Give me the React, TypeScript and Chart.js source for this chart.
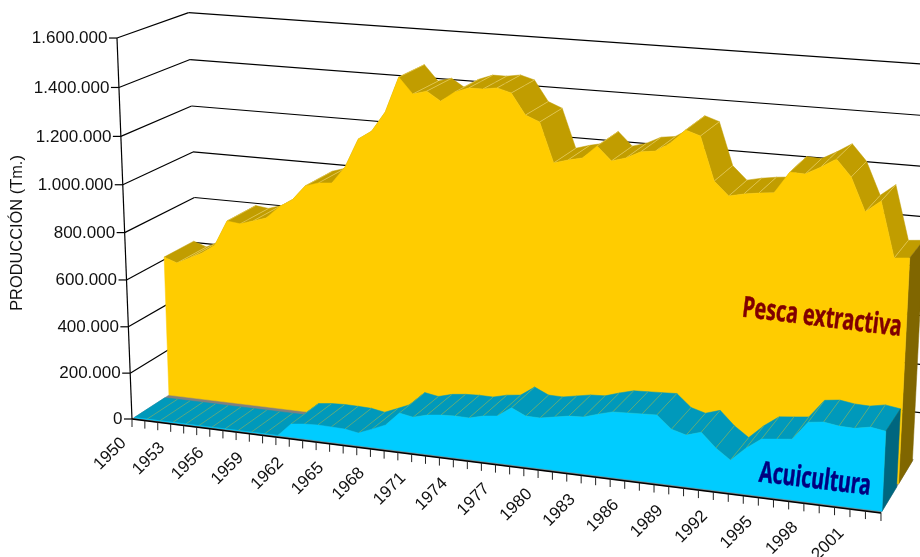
import React, { useEffect, useRef } from "react";
import { Chart, registerables } from "chart.js";

Chart.register(...registerables);

const years = [
  1950, 1951, 1952, 1953, 1954, 1955, 1956, 1957, 1958, 1959, 1960, 1961, 1962, 1963, 1964, 1965, 1966, 1967,
  1968, 1969, 1970, 1971, 1972, 1973, 1974, 1975, 1976, 1977, 1978, 1979, 1980, 1981, 1982, 1983, 1984, 1985,
  1986, 1987, 1988, 1989, 1990, 1991, 1992, 1993, 1994, 1995, 1996, 1997, 1998, 1999, 2000, 2001, 2002, 2003,
];
const pescaExtractiva = [
  611000, 591000, 619000, 646000, 686000, 795000, 788000, 806000, 824000, 876000, 911000, 975000, 993000, 998000,
  1070000, 1190000, 1228000, 1311000, 1457000, 1393000, 1409000, 1373000, 1414000, 1435000, 1435000, 1444000,
  1428000, 1344000, 1321000, 1161000, 1178000, 1191000, 1244000, 1189000, 1206000, 1235000, 1243000, 1280000,
  1336000, 1317000, 1144000, 1090000, 1103000, 1112000, 1118000, 1205000, 1202000, 1234000, 1271000, 1206000,
  1075000, 1123000, 905000, 911000,
];
const acuicultura = [
  200, 200, 200, 300, 300, 300, 400, 400, 500, 500, 600, 600, 57000, 64000, 67000, 66000, 64000, 54000,
  78000, 103000, 160000, 150000, 166000, 173000, 176000, 175000, 190000, 197000, 238000, 211000, 210000, 221000,
  232000, 235000, 254000, 270000, 273000, 276000, 279000, 228000, 211000, 230000, 173000, 131000, 187000, 231000,
  238000, 245000, 320000, 328000, 319000, 317000, 329000, 320000,
];

const Y_TITLE = "PRODUCCIÓN (Tm.)";
const FONT = '"Liberation Sans", Arial, sans-serif';

// Perspective camera of the 3D box: origin, vanishing points and weights.
const O = [132, 419];
const VX = [-7260, -509];
const VY = [474, 9098];
const VZ = [1455, -437];
const A = -0.092;
const B = -0.04205;
const C = 0.0542;
const project = (u: number, v: number, w: number): [number, number] => {
  const d = 1 + A * u + B * v + C * w;
  return [
    (O[0] + A * u * VX[0] + B * v * VY[0] + C * w * VZ[0]) / d,
    (O[1] + A * u * VX[1] + B * v * VY[1] + C * w * VZ[1]) / d,
  ];
};

const poly = (ctx: CanvasRenderingContext2D, pts: [number, number][], fill: string) => {
  ctx.beginPath();
  pts.forEach((p, i) => (i ? ctx.lineTo(p[0], p[1]) : ctx.moveTo(p[0], p[1])));
  ctx.closePath();
  ctx.fillStyle = fill;
  ctx.fill();
  ctx.strokeStyle = fill;
  ctx.lineWidth = 0.5;
  ctx.stroke();
};
const line = (ctx: CanvasRenderingContext2D, a: [number, number], b: [number, number], col: string, lw = 1) => {
  ctx.beginPath();
  ctx.moveTo(a[0], a[1]);
  ctx.lineTo(b[0], b[1]);
  ctx.strokeStyle = col;
  ctx.lineWidth = lw;
  ctx.stroke();
};

const perspectivePlugin = {
  id: "perspective",
  afterDraw(chart: any) {
    const { ctx, chartArea: ca, scales } = chart;
    const toU = (px: number) => (px - ca.left) / (ca.right - ca.left);
    const toV = (py: number) => (ca.bottom - py) / (ca.bottom - ca.top);
    ctx.save();

    // back walls' grid
    for (const t of scales.y.ticks) {
      const v = toV(scales.y.getPixelForValue(t.value));
      if (v > 0) {
        line(ctx, project(0, v, 0), project(0, v, 1), "#000", 1.2);
        line(ctx, project(0, v, 1), project(1.3, v, 1), "#000", 1.2);
      }
    }
    // floor
    poly(ctx, [project(0, 0, 0), project(1, 0, 0), project(1, 0, 1), project(0, 0, 1)], "#808080");

    const drawSeries = (
      idx: number,
      w0: number,
      w1: number,
      front: string,
      top: string,
      side: string,
      seam: string,
    ) => {
      const pts = chart.getDatasetMeta(idx).data as any[];
      const n = pts.length;
      const uv = pts.map((p) => [toU(p.x), toV(p.y)]);
      for (let i = 0; i < n - 1; i++) {
        const [u1, v1] = uv[i];
        const [u2, v2] = uv[i + 1];
        poly(ctx, [project(u1, v1, w0), project(u2, v2, w0), project(u2, v2, w1), project(u1, v1, w1)], top);
        if (i > 0) line(ctx, project(u1, v1, w0), project(u1, v1, w1), seam, 0.8);
      }
      const [ue, ve] = uv[n - 1];
      poly(ctx, [project(ue, 0, w0), project(ue, ve, w0), project(ue, ve, w1), project(ue, 0, w1)], side);
      const face: [number, number][] = [project(uv[0][0], 0, w0)];
      uv.forEach(([u, v]) => face.push(project(u, v, w0)));
      face.push(project(ue, 0, w0));
      poly(ctx, face, front);
    };
    drawSeries(0, 0.53, 0.97, "#FFCC00", "#C19D00", "#806600", "rgba(255,235,150,0.55)");
    drawSeries(1, 0.03, 0.47, "#00CCFF", "#0099BB", "#00667F", "rgba(190,190,60,0.55)");

    // y axis
    ctx.textBaseline = "middle";
    ctx.textAlign = "right";
    ctx.font = `17px ${FONT}`;
    ctx.fillStyle = "#111";
    line(ctx, project(0, 0, 0), project(0, 1, 0), "#000", 1.2);
    for (const t of scales.y.ticks) {
      const v = toV(scales.y.getPixelForValue(t.value));
      const p = project(0, v, 0);
      line(ctx, [p[0] - 8, p[1]], p, "#000", 1.2);
      ctx.fillText(t.label, p[0] - 9.5, p[1] + 0.5);
    }
    // x axis
    line(ctx, project(0, 0, 0), project(1, 0, 0), "#000", 1.6);
    scales.x.ticks.forEach((t: any, i: number) => {
      const u = toU(scales.x.getPixelForTick(i));
      const p = project(u, 0, 0);
      line(ctx, p, [p[0], p[1] + 8], "#222", 1);
      if (t.label) {
        ctx.save();
        ctx.translate(p[0] - 8.5, p[1] + 21.5);
        ctx.rotate(-Math.PI / 4);
        ctx.textAlign = "right";
        ctx.textBaseline = "middle";
        ctx.fillStyle = "#111";
        ctx.fillText(t.label, 0, 0);
        ctx.restore();
      }
    });
    // y title
    ctx.save();
    ctx.translate(17, 233);
    ctx.rotate(-Math.PI / 2);
    ctx.textAlign = "center";
    ctx.font = `16.4px ${FONT}`;
    ctx.fillStyle = "#111";
    ctx.fillText(Y_TITLE, 0, 0);
    ctx.restore();

    // series names
    const label = (text: string, x: number, y: number, col: string, size: number, sx: number) => {
      ctx.save();
      ctx.translate(x, y);
      ctx.rotate(0.122);
      ctx.scale(sx, 1);
      ctx.textAlign = "center";
      ctx.textBaseline = "middle";
      ctx.font = `bold ${size}px "Noto Sans", sans-serif`;
      ctx.fillStyle = col;
      ctx.strokeStyle = col;
      ctx.lineWidth = 0.5;
      ctx.fillText(text, 0, 0);
      ctx.strokeText(text, 0, 0);
      ctx.restore();
    };
    label(chart.data.datasets[0].label, 822, 318, "#800000", 29, 0.68);
    label(chart.data.datasets[1].label, 815, 480, "#000080", 29, 0.675);
    ctx.restore();
  },
};

export default function App() {
  const ref = useRef<HTMLCanvasElement>(null);
  useEffect(() => {
    const chart = new Chart(ref.current as HTMLCanvasElement, {
      type: "line",
      data: {
        labels: years.map(String),
        datasets: [
          { label: "Pesca extractiva", data: pescaExtractiva, showLine: false, pointRadius: 0, fill: false },
          { label: "Acuicultura", data: acuicultura, showLine: false, pointRadius: 0, fill: false },
        ],
      },
      options: {
        animation: false,
        responsive: false,
        layout: { padding: 0 },
        plugins: { legend: { display: false }, tooltip: { enabled: false } },
        scales: {
          x: {
            display: false,
            offset: false,
            ticks: {
              autoSkip: false,
              callback(_v: any, i: number) {
                return i % 3 === 0 ? String(years[i]) : "";
              },
            },
          },
          y: {
            display: false,
            min: 0,
            max: 1600000,
            ticks: {
              stepSize: 200000,
              callback: (v: any) => String(v).replace(/\B(?=(\d{3})+(?!\d))/g, "."),
            },
          },
        },
      },
      plugins: [perspectivePlugin],
    } as any);
    return () => chart.destroy();
  }, []);
  return (
    <div style={{ position: "absolute", left: 0, top: 0, width: 920, height: 557, background: "#fff" }}>
      <canvas ref={ref} width={920} height={557} style={{ display: "block" }} />
    </div>
  );
}
